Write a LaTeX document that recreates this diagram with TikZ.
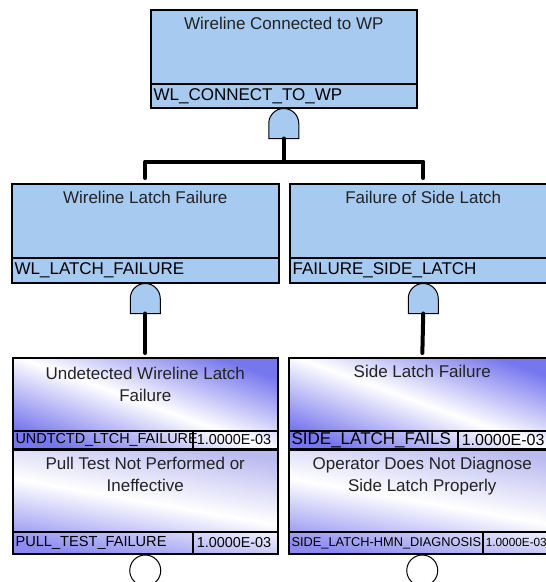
\documentclass[tikz,border=0pt]{standalone}
\usepackage{fontspec}
\setmainfont{Liberation Sans}
\usepackage{xcolor}
\usepackage{tikz}
\usetikzlibrary{positioning, calc}
\definecolor{gateblue}{RGB}{166,202,240}
\definecolor{lavdark}{RGB}{118,118,238}
\definecolor{lavlight}{RGB}{186,186,240}
\definecolor{inktext}{RGB}{35,35,35}
\exhyphenpenalty=10000
\hyphenpenalty=10000
\tikzset{
  gatebox/.style={
    draw, line width=1.5pt, fill=gateblue, inner sep=0pt,
    anchor=north west
  },
  basicbox/.style={
    draw, line width=1.5pt, inner sep=0pt, anchor=north west,
    left color=lavdark, right color=lavdark, middle color=white,
    shading angle=-20
  },
  basicboxlight/.style={
    basicbox, left color=lavlight, right color=lavdark!85,
    middle color=white, shading angle=-10
  },
  idrow/.style={
    draw, line width=1.2pt, inner xsep=3pt, inner ysep=0pt,
    anchor=south west, align=left, text=black,
    font=\fontsize{17}{17}\selectfont
  },
  titletext/.style={
    anchor=north, align=center, inner sep=0pt, text=inktext,
    font=\fontsize{17}{21.5}\selectfont
  },
  stem/.style={line width=4pt, line cap=round, line join=round},
  eventcircle/.style={
    circle, draw, line width=1pt, fill=white, minimum size=31pt,
    inner sep=0pt, anchor=north
  },
  andgate/.pic={
    \draw[fill=gateblue, line width=1pt]
      (-15,30) -- (-15,15) arc (180:360:15) -- (15,30) -- cycle;
    \coordinate (-out) at (0,30);
  },
}

\begin{document}
\begin{tikzpicture}[x=1pt, y=-1pt]
  \useasboundingbox (0,0) rectangle (546,582);
  \clip (0,0) rectangle (546,582);

  % --- top event ---
  \node[gatebox, minimum width=266pt, minimum height=98pt]
    (wlconnect) at (150,9) {};
  \node[titletext, below=8pt of wlconnect.north] {Wireline Connected to WP};
  \node[idrow, text width=260pt, minimum height=24pt]
    (wlconnectid) at (wlconnect.south west) {WL\_CONNECT\_TO\_WP};
  \pic (g0) at (wlconnect.south) {andgate};

  % --- second level gates ---
  \node[gatebox, minimum width=267pt, minimum height=99pt]
    (wllatch) at (11,183) {};
  \node[titletext, below=8pt of wllatch.north] {Wireline Latch Failure};
  \node[idrow, text width=261pt, minimum height=25pt]
    (wllatchid) at (wllatch.south west) {WL\_LATCH\_FAILURE};
  \pic (g1) at (wllatch.south) {andgate};

  \node[gatebox, minimum width=267pt, minimum height=99pt]
    (sidelatch) at (289,183) {};
  \node[titletext, below=8pt of sidelatch.north] {Failure of Side Latch};
  \node[idrow, text width=261pt, minimum height=25pt]
    (sidelatchid) at (sidelatch.south west) {FAILURE\_SIDE\_LATCH};
  \pic (g2) at (sidelatch.south) {andgate};

  % --- basic events, left ---
  \node[basicbox, minimum width=265pt, minimum height=91pt]
    (undtctd) at (12,357) {};
  \node[titletext, below=10pt of undtctd.north]
    {Undetected Wireline Latch\\Failure};
  \node[idrow, text width=174pt, minimum height=18pt,
    font=\fontsize{14.4}{14.4}\selectfont]
    (undtctdid) at (undtctd.south west) {UNDTCTD\_LTCH\_FAILURE};
  \node[idrow, anchor=west, text width=79pt, minimum height=18pt,
    font=\fontsize{14.4}{14.4}\selectfont]
    (undtctdval) at (undtctdid.east) {1.0000E-03};

  \node[basicboxlight, minimum width=265pt, minimum height=104pt]
    (pulltest) at (12,449) {};
  \node[titletext, below=8pt of pulltest.north]
    {Pull Test Not Performed or\\Ineffective};
  \node[idrow, text width=174pt, minimum height=22pt,
    font=\fontsize{14.6}{14.6}\selectfont]
    (pulltestid) at (pulltest.south west) {PULL\_TEST\_FAILURE};
  \node[idrow, anchor=west, text width=79pt, minimum height=22pt,
    font=\fontsize{14.4}{14.4}\selectfont]
    (pulltestval) at (pulltestid.east) {1.0000E-03};
  \node[eventcircle] (pulltestev) at (pulltest.south) {};

  % --- basic events, right ---
  \node[basicbox, minimum width=267pt, minimum height=91pt]
    (sidefails) at (288,357) {};
  \node[titletext, below=8pt of sidefails.north] {Side Latch Failure};
  \node[idrow, text width=163pt, minimum height=18pt]
    (sidefailsid) at (sidefails.south west) {SIDE\_LATCH\_FAILS};
  \node[idrow, anchor=west, text width=92pt, minimum height=18pt,
    font=\fontsize{16}{16}\selectfont]
    (sidefailsval) at (sidefailsid.east) {1.0000E-03};

  \node[basicboxlight, minimum width=267pt, minimum height=104pt]
    (hmndiag) at (288,449) {};
  \node[titletext, below=8pt of hmndiag.north]
    {Operator Does Not Diagnose\\Side Latch Properly};
  \node[idrow, text width=188pt, minimum height=22pt,
    font=\fontsize{12.8}{12.8}\selectfont]
    (hmndiagid) at (hmndiag.south west) {SIDE\_LATCH-HMN\_DIAGNOSIS};
  \node[idrow, anchor=west, inner xsep=2pt, text width=69pt,
    minimum height=22pt, font=\fontsize{11.8}{11.8}\selectfont]
    (hmndiagval) at (hmndiagid.east) {1.0000E-03};
  \node[eventcircle] (hmndiagev) at (hmndiag.south) {};

  % Connectors
  \coordinate (split) at ($(g0-out)+(0,23)$);
  \draw[stem] (g0-out) -- (split);
  \draw[stem, shorten >=5pt] (split) -| (wllatch.north);
  \draw[stem, shorten >=5pt] (split) -| (sidelatch.north);
  \draw[stem, shorten >=4pt] (g1-out) -- (undtctd.north);
  \draw[stem, shorten >=4pt] (g2-out) -- (sidefails.north);
\end{tikzpicture}
\end{document}
